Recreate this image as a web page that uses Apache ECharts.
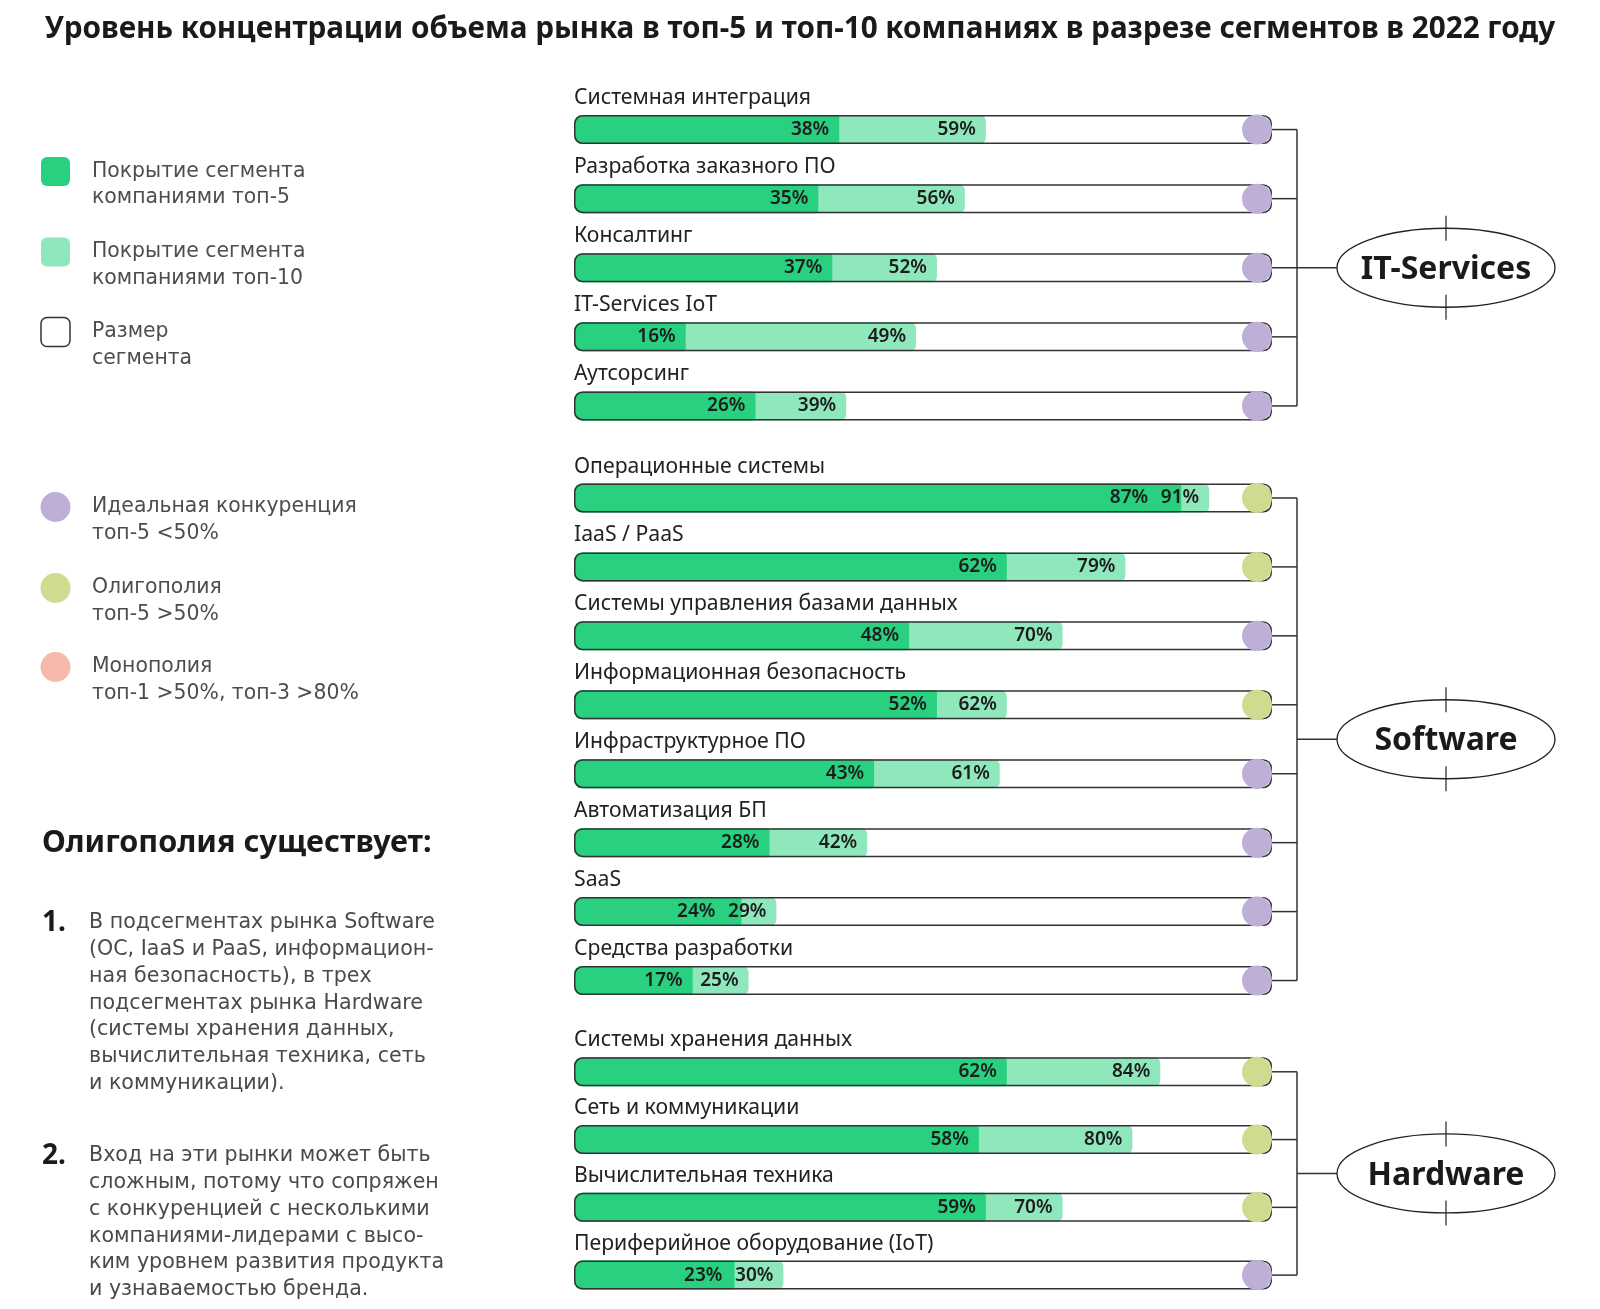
<!DOCTYPE html>
<html><head><meta charset="utf-8">
<script src="https://cdn.jsdelivr.net/npm/echarts@6/dist/echarts.min.js"></script>
<style>html,body{margin:0;padding:0;background:#fff}#c{width:1600px;height:1309px}</style>
</head><body><div id="c"></div>
<script>
// ---------- data ----------
const titleText = 'Уровень концентрации объема рынка в топ-5 и топ-10 компаниях в разрезе сегментов в 2022 году';

const itCategories = ['Системная интеграция', 'Разработка заказного ПО', 'Консалтинг', 'IT-Services IoT', 'Аутсорсинг'];
const itTop5  = [38, 35, 37, 16, 26];
const itTop10 = [59, 56, 52, 49, 39];
const itStatus = ['ideal', 'ideal', 'ideal', 'ideal', 'ideal'];

const swCategories = ['Операционные системы', 'IaaS / PaaS', 'Системы управления базами данных', 'Информационная безопасность', 'Инфраструктурное ПО', 'Автоматизация БП', 'SaaS', 'Средства разработки'];
const swTop5  = [87, 62, 48, 52, 43, 28, 24, 17];
const swTop10 = [91, 79, 70, 62, 61, 42, 29, 25];
const swStatus = ['oligopoly', 'oligopoly', 'ideal', 'oligopoly', 'ideal', 'ideal', 'ideal', 'ideal'];

const hwCategories = ['Системы хранения данных', 'Сеть и коммуникации', 'Вычислительная техника', 'Периферийное оборудование (IoT)'];
const hwTop5  = [62, 58, 59, 23];
const hwTop10 = [84, 80, 70, 30];
const hwStatus = ['oligopoly', 'oligopoly', 'oligopoly', 'ideal'];

const groupNames = ['IT-Services', 'Software', 'Hardware'];
const segmentSize = 100;

const legendBars = [['Покрытие сегмента', 'компаниями топ-5'], ['Покрытие сегмента', 'компаниями топ-10'], ['Размер', 'сегмента']];
const legendStatus = [['Идеальная конкуренция', 'топ-5 <50%'], ['Олигополия', 'топ-5 >50%'], ['Монополия', 'топ-1 >50%, топ-3 >80%']];
const noteHeading = 'Олигополия существует:';
const note1 = ['В подсегментах рынка Software', '(ОС, IaaS и PaaS, информацион-', 'ная безопасность), в трех', 'подсегментах рынка Hardware', '(системы хранения данных,', 'вычислительная техника, сеть', 'и коммуникации).'];
const note2 = ['Вход на эти рынки может быть', 'сложным, потому что сопряжен', 'с конкуренцией с несколькими', 'компаниями-лидерами с высо-', 'ким уровнем развития продукта', 'и узнаваемостью бренда.'];

// ---------- styles ----------
const FF = "'Noto Sans', 'Open Sans', sans-serif";
const FW = "'DejaVu Sans', 'Noto Sans', sans-serif";
const DARK = '#28d07f', LIGHT = '#8fe7bc', LINE = '#333333';
const STATUS_COLORS = { ideal: '#bdafd7', oligopoly: '#cfdb8e', monopoly: '#f6baab' };
const statusOrder = ['ideal', 'oligopoly', 'monopoly'];

const groups = [
  { cats: itCategories, top5: itTop5, top10: itTop10, status: itStatus, top: 95, height: 345.5 },
  { cats: swCategories, top5: swTop5, top10: swTop10, status: swStatus, top: 463.5, height: 551.5 },
  { cats: hwCategories, top5: hwTop5, top10: hwTop10, status: hwStatus, top: 1037.9, height: 276.3 }
];
const GRID_LEFT = 574, GRID_W = 698;
const PX = GRID_W / 100;
const BAR_H = 29;

const grids = [], xAxes = [], yAxes = [], series = [];
groups.forEach((g, gi) => {
  grids.push({ left: GRID_LEFT, width: GRID_W, top: g.top, height: g.height });
  xAxes.push({ type: 'value', gridIndex: gi, min: 0, max: 100, show: false });
  yAxes.push({ type: 'category', gridIndex: gi, data: g.cats, inverse: true, show: false });
  const valLabel = { show: true, position: 'insideRight', distance: 10, formatter: p => p.value + '%',
    fontSize: 19, fontWeight: 600, color: '#1c1c1c', fontFamily: FF };
  series.push({
    type: 'bar', name: 'Покрытие сегмента компаниями топ-10', xAxisIndex: gi, yAxisIndex: gi, barWidth: BAR_H, barGap: '-100%', z: 2, silent: true,
    data: g.top10, itemStyle: { color: LIGHT, borderRadius: [8, 6, 6, 8] }
  });
  series.push({
    type: 'bar', name: 'Покрытие сегмента компаниями топ-5', xAxisIndex: gi, yAxisIndex: gi, barWidth: BAR_H, barGap: '-100%', z: 3, silent: true,
    data: g.top5.map((v, i) => {
      // shift the label left when it would collide with the top-10 label
      const need = (v - g.top10[i]) * PX + 51;
      return need > 0 ? { value: v, label: { offset: [-need, 0] } } : v;
    }),
    itemStyle: { color: DARK, borderRadius: [8, 3, 3, 8] }, label: valLabel
  });
  // labels for the top-10 values, kept above the top-5 fill
  series.push({
    type: 'bar', name: 'top10-labels', xAxisIndex: gi, yAxisIndex: gi, barWidth: BAR_H, barGap: '-100%', z: 4, silent: true,
    data: g.top10, itemStyle: { color: 'rgba(0,0,0,0)' }, label: valLabel
  });
  series.push({
    type: 'bar', name: 'Размер сегмента', xAxisIndex: gi, yAxisIndex: gi, barWidth: BAR_H, barGap: '-100%', z: 4, silent: true,
    data: g.cats.map(() => segmentSize),
    itemStyle: { color: 'rgba(0,0,0,0)', borderColor: LINE, borderWidth: 1.5, borderRadius: 8 },
    label: { show: true, position: [0, -17], align: 'left', verticalAlign: 'middle', formatter: '{b}',
      fontSize: 21.2, color: '#222', fontFamily: FF }
  });
  series.push({
    type: 'custom', name: 'bracket', xAxisIndex: gi, yAxisIndex: gi, z: 5, silent: true, clip: false,
    data: g.cats.map((c, i) => [segmentSize, i]),
    renderItem: (params, api) => {
      const idx = api.value(1);
      const end = api.coord([api.value(0), idx]);
      const r = 15;
      const cy = end[1];
      const bx = end[0] + 25;
      const ch = [
        { type: 'line', shape: { x1: end[0], y1: cy, x2: bx, y2: cy }, style: { stroke: LINE, lineWidth: 1.5 } },
        { type: 'circle', shape: { cx: end[0] - r, cy: cy, r: r }, style: { fill: STATUS_COLORS[g.status[idx]] } }
      ];
      if (idx === 0) {
        const last = api.coord([segmentSize, g.cats.length - 1]);
        const my = (cy + last[1]) / 2;
        const rx = 109, ry = 39.5;
        const ex = bx + 40 + rx;
        ch.push({ type: 'line', shape: { x1: bx, y1: cy, x2: bx, y2: last[1] }, style: { stroke: LINE, lineWidth: 1.5 } });
        ch.push({ type: 'line', shape: { x1: bx, y1: my, x2: bx + 40, y2: my }, style: { stroke: LINE, lineWidth: 1.5 } });
        ch.push({ type: 'ellipse', shape: { cx: ex, cy: my, rx: rx, ry: ry }, style: { fill: '#fff', stroke: '#222', lineWidth: 1.3 } });
        ch.push({ type: 'line', shape: { x1: ex, y1: my - ry - 12.5, x2: ex, y2: my - ry + 12.5 }, style: { stroke: '#222', lineWidth: 1.2 } });
        ch.push({ type: 'line', shape: { x1: ex, y1: my + ry - 12.5, x2: ex, y2: my + ry + 12.5 }, style: { stroke: '#222', lineWidth: 1.2 } });
        ch.push({ type: 'text', style: { x: ex, y: my + 2, text: groupNames[gi], fill: '#1a1a1a', font: "bold 32px " + FF, align: 'center', verticalAlign: 'middle' } });
      }
      return { type: 'group', children: ch };
    }
  });
});

// ---------- left-side legend and notes ----------
const gfx = [];
const txt = (x, y, s, size, color, weight, fam) => gfx.push({ type: 'text', x: x, y: y,
  style: { text: s, fill: color, font: (weight || 'normal') + ' ' + size + 'px ' + (fam || FF), verticalAlign: 'middle', align: 'left' } });
const legendBarY = [171.5, 252, 332];
const legendBarStyles = [{ fill: DARK }, { fill: LIGHT }, { fill: '#fff', stroke: '#333', lineWidth: 1.5 }];
legendBars.forEach((lines, i) => {
  gfx.push({ type: 'rect', shape: { x: 41, y: legendBarY[i] - 14.5, width: 29, height: 29, r: 6 }, style: legendBarStyles[i] });
  lines.forEach((l, k) => txt(92, legendBarY[i] + k * 26.5, l, 20.4, '#4d4d4d', 'normal', FW));
});
const legendStatY = [507, 588, 667];
legendStatus.forEach((lines, i) => {
  gfx.push({ type: 'circle', shape: { cx: 55.5, cy: legendStatY[i], r: 15 }, style: { fill: STATUS_COLORS[statusOrder[i]] } });
  lines.forEach((l, k) => txt(92, legendStatY[i] + k * 26.5, l, 20.4, '#4d4d4d', 'normal', FW));
});
txt(42, 843, noteHeading, 30.6, '#1a1a1a', 'bold');
txt(42, 923, '1.', 28, '#1a1a1a', 'bold');
note1.forEach((l, k) => txt(89, 923 + k * 26.77, l, 20.6, '#4a4a4a', 'normal', FW));
txt(42, 1156, '2.', 28, '#1a1a1a', 'bold');
note2.forEach((l, k) => txt(89, 1156 + k * 26.77, l, 20.6, '#4a4a4a', 'normal', FW));

const chart = echarts.init(document.getElementById('c'), null, { renderer: 'canvas' });
chart.setOption({
  backgroundColor: '#fff',
  animation: false,
  title: { text: titleText, left: 'center', top: 10,
    textStyle: { fontSize: 29.7, fontWeight: 'bold', color: '#1a1a1a', fontFamily: FF } },
  grid: grids, xAxis: xAxes, yAxis: yAxes, series: series, graphic: gfx
});
</script>
</body></html>
